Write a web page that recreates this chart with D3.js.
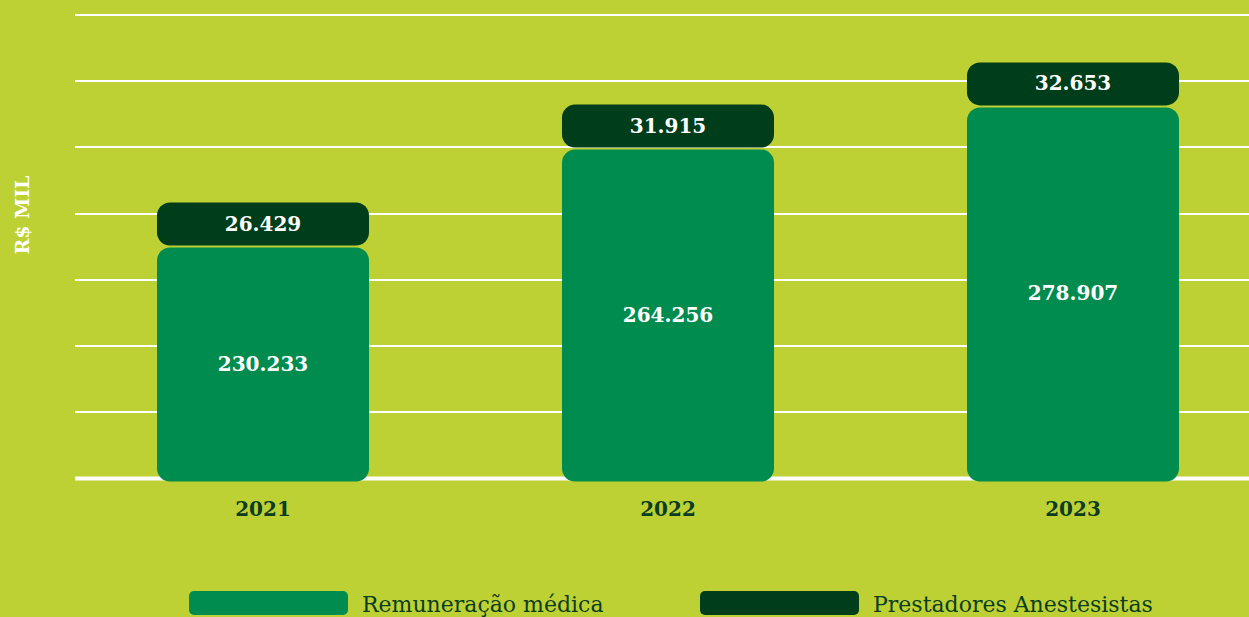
<!DOCTYPE html>
<html>
<head>
<meta charset="utf-8">
<script src="https://cdn.jsdelivr.net/npm/d3@7"></script>
<style>
	html, body { margin: 0; padding: 0; background: #bdd135; }
	svg { display: block; }
</style>
</head>
<body>
<div id="chart"></div>
<script>
const COLOR_BG = '#bdd135';
const COLOR_MEDICA = '#008c4f';
const COLOR_ANEST = '#003d1b';
const COLOR_TEXT = '#0b3d1e';
const FONT = '"DejaVu Serif", serif';

const years = ['2021', '2022', '2023'];
const remuneracao = [230.233, 264.256, 278.907];
const anestesistas = [26.429, 31.915, 32.653];
const seriesNames = ['Remuneração médica', 'Prestadores Anestesistas'];
const gridTicks = [150, 173, 196, 219, 242, 265, 288, 311];

const W = 1249;
const H = 617;
const fmt = (v) => v.toFixed(3);

const svg = d3
	.select('#chart')
	.append('svg')
	.attr('width', W)
	.attr('height', H);

svg.append('rect').attr('width', W).attr('height', H).attr('fill', COLOR_BG);

const x = d3
	.scaleBand()
	.domain(years)
	.range([60.5, 1275.5])
	.paddingInner(0.4765)
	.paddingOuter(0.23825);

const y = d3.scaleLinear().domain([150, 311]).range([478.5, 15]);

// grid lines
svg
	.append('g')
	.selectAll('line')
	.data(gridTicks.slice(1))
	.enter()
	.append('line')
	.attr('x1', 75)
	.attr('x2', W)
	.attr('y1', (d) => Math.round(y(d)))
	.attr('y2', (d) => Math.round(y(d)))
	.attr('stroke', '#ffffff')
	.attr('stroke-width', 2);

svg
	.append('line')
	.attr('x1', 75)
	.attr('x2', W)
	.attr('y1', y(150))
	.attr('y2', y(150))
	.attr('stroke', '#ffffff')
	.attr('stroke-width', 4);

const rows = years.map((yr, i) => ({
	year: yr,
	med: remuneracao[i],
	ane: anestesistas[i]
}));

const capH = 43;
const gap = 2;

const bars = svg.append('g');

bars
	.selectAll('.med')
	.data(rows)
	.enter()
	.append('rect')
	.attr('class', 'med')
	.attr('x', (d) => x(d.year))
	.attr('y', (d) => y(d.med))
	.attr('width', x.bandwidth())
	.attr('height', (d) => y(150) - y(d.med) + 3)
	.attr('rx', 13)
	.attr('fill', COLOR_MEDICA);

bars
	.selectAll('.ane')
	.data(rows)
	.enter()
	.append('rect')
	.attr('class', 'ane')
	.attr('x', (d) => x(d.year))
	.attr('y', (d) => y(d.med) - gap - capH)
	.attr('width', x.bandwidth())
	.attr('height', capH)
	.attr('rx', 13)
	.attr('fill', COLOR_ANEST);

bars
	.selectAll('.med-label')
	.data(rows)
	.enter()
	.append('text')
	.attr('x', (d) => x(d.year) + x.bandwidth() / 2)
	.attr('y', (d) => (y(d.med) + y(150)) / 2 + 2)
	.attr('text-anchor', 'middle')
	.attr('dominant-baseline', 'middle')
	.attr('font-family', FONT)
	.attr('font-weight', 'bold')
	.attr('font-size', 20)
	.attr('fill', '#ffffff')
	.text((d) => fmt(d.med));

bars
	.selectAll('.ane-label')
	.data(rows)
	.enter()
	.append('text')
	.attr('x', (d) => x(d.year) + x.bandwidth() / 2)
	.attr('y', (d) => y(d.med) - gap - capH / 2 + 1)
	.attr('text-anchor', 'middle')
	.attr('dominant-baseline', 'middle')
	.attr('font-family', FONT)
	.attr('font-weight', 'bold')
	.attr('font-size', 20)
	.attr('fill', '#ffffff')
	.text((d) => fmt(d.ane));

// year axis
const xAxis = d3.axisBottom(x).tickSize(0).tickPadding(0);
const gx = svg
	.append('g')
	.attr('transform', 'translate(0,' + 516 + ')')
	.call(xAxis);
gx.select('.domain').remove();
gx
	.selectAll('text')
	.attr('y', 0)
	.attr('dy', 0)
	.attr('font-family', FONT)
	.attr('font-weight', 'bold')
	.attr('font-size', 20)
	.attr('fill', COLOR_TEXT);

// y title
svg
	.append('text')
	.attr('transform', 'translate(29,215) rotate(-90)')
	.attr('text-anchor', 'middle')
	.attr('font-family', FONT)
	.attr('font-weight', 'bold')
	.attr('font-size', 19)
	.attr('fill', '#ffffff')
	.text('R$ MIL');

// legend
const legendX = [189, 700];
const legend = svg
	.append('g')
	.selectAll('g')
	.data(seriesNames)
	.enter()
	.append('g')
	.attr('transform', (d, i) => 'translate(' + legendX[i] + ',591)');

legend
	.append('rect')
	.attr('width', 159)
	.attr('height', 24)
	.attr('rx', 5)
	.attr('fill', (d, i) => (i === 0 ? COLOR_MEDICA : COLOR_ANEST));

legend
	.append('text')
	.attr('x', 173)
	.attr('y', 21)
	.attr('font-family', FONT)
	.attr('font-size', 22)
	.attr('fill', COLOR_TEXT)
	.text((d) => d);
</script>
</body>
</html>
